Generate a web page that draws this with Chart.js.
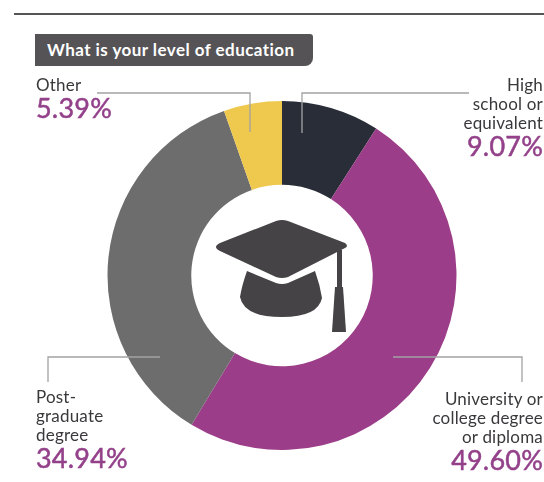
<!DOCTYPE html>
<html>
<head>
<meta charset="utf-8">
<script src="https://cdn.jsdelivr.net/npm/chart.js@4"></script>
<style>
  html, body { margin: 0; padding: 0; background: #fff; overflow: hidden; }
  #page { position: relative; width: 544px; height: 482px; font-family: Lato, sans-serif; }
  #rule { position: absolute; left: 14px; top: 13px; width: 530px; height: 2px; background: #555; }
  #title { position: absolute; left: 35px; top: 34px; width: 278px; height: 32px; line-height: 31px; box-sizing: border-box;
           padding-left: 12px; background: #555356; color: #fff; font-weight: 700; font-size: 17px; letter-spacing: 0.45px;
           border-bottom-right-radius: 8px; border-top-right-radius: 3px; white-space: nowrap; }
  #chartWrap { position: absolute; left: 107px; top: 101px; width: 350px; height: 350px; }
  svg { position: absolute; left: 0; top: 0; }
  .label { position: absolute; color: #3a383b; font-size: 17px; line-height: 19px; letter-spacing: 0.2px; white-space: nowrap; }
  .label b { display: block; color: #93418a; font-size: 27px; line-height: 28px; font-weight: 400; letter-spacing: 0.2px;
             -webkit-text-stroke: 0.5px #93418a; }
  .right { text-align: right; right: 1px; }
</style>
</head>
<body>
<div id="page">
  <div id="rule"></div>
  <div id="title">What is your level of education</div>
  <div id="chartWrap"><canvas id="eduChart" width="350" height="349"></canvas></div>

  <svg width="544" height="482">
    <g fill="none" stroke="#a3a2a4" stroke-width="1.3">
      <polyline points="97,93 250,93 250,132"/>
      <polyline points="469,93 302,93 302,133"/>
      <polyline points="160,357 48,357 48,382"/>
      <polyline points="393,357 522,357 522,382"/>
    </g>
    <!-- grad cap -->
    <g fill="#454345">
      <path d="M216,247 Q216,245 220,243 L276,221 Q282,219 288,221 L345,243 Q349,246 345,248 L288,277 Q282,279 276,277 L220,251 Q216,249 216,247 Z"/>
      <path d="M247,271 L276,283 Q282,285 288,283 L315,271 Q320,285 322,298 Q318,317 282,317 Q244,317 240,297 Q242,285 247,271 Z"/>
      <rect x="337" y="250" width="5" height="38"/>
      <path d="M335,287 L343,287 L346,332 L332,332 Z"/>
    </g>
  </svg>

  <div class="label" style="left:36px; top:75px;">Other<b>5.39%</b></div>
  <div class="label right" style="top:75px;">High<br>school or<br>equivalent<b>9.07%</b></div>
  <div class="label" style="left:36px; top:387px;">Post-<br>graduate<br>degree<b>34.94%</b></div>
  <div class="label right" style="top:389px;">University or<br>college degree<br>or diploma<b>49.60%</b></div>
</div>
<script>
const categories = ['High school or equivalent', 'University or college degree or diploma', 'Post-graduate degree', 'Other'];
// slice sizes as drawn in the picture: the grey slice measures about 35.94, its printed label says 34.94
const shares = [9.07, 49.60, 35.94, 5.39];
const sliceColors = ['#292d38', '#9b3d88', '#6e6d6e', '#eec94e'];

new Chart(document.getElementById('eduChart').getContext('2d'), {
    type: 'doughnut',
    data: {
        labels: categories,
        datasets: [{
            data: shares,
            backgroundColor: sliceColors,
            borderWidth: 0
        }]
    },
    options: {
        responsive: false,
        animation: false,
        cutout: '52%',
        plugins: {
            legend: { display: false },
            tooltip: { enabled: false }
        }
    }
});
</script>
</body>
</html>
